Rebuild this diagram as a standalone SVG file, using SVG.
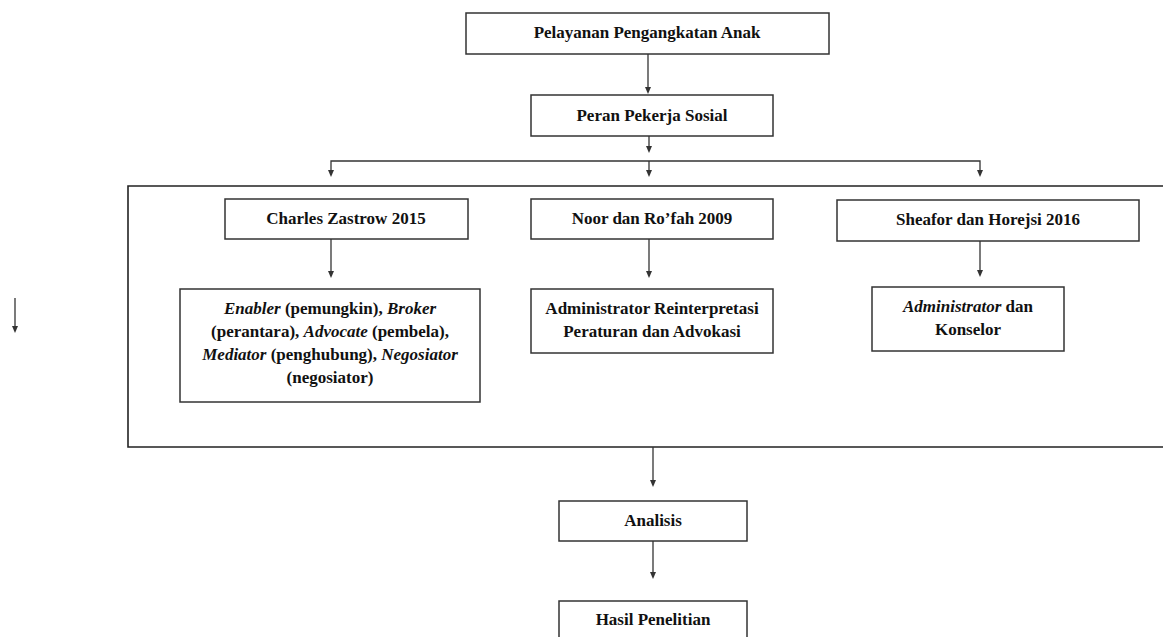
<svg xmlns="http://www.w3.org/2000/svg" width="1163" height="637" viewBox="0 0 1163 637">
<style>
.box{fill:#fff;stroke:#333;stroke-width:1.5}
.frame{fill:none;stroke:#222;stroke-width:1.6}
.ln{fill:none;stroke:#333;stroke-width:1.3}
.ah{fill:#333}
text{font-family:'Liberation Serif',serif;font-size:17px;font-weight:bold;fill:#111;text-anchor:middle}
.i{font-style:italic}
</style>
<g id="group-frame">
<path class="frame" d="M1170,186 H128 V447 H1170"/>
</g>
<g id="connectors">
<path class="ln" d="M648,54 V87"/>
<path class="ah" d="M645,87 L651,87 L648,94 Z"/>
<path class="ln" d="M649,136 V146"/>
<path class="ah" d="M646,146 L652,146 L649,153 Z"/>
<path class="ln" d="M331,170 V161 H980 V170"/>
<path class="ln" d="M649,161 V170"/>
<path class="ah" d="M328,170 L334,170 L331,177 Z"/>
<path class="ah" d="M646,170 L652,170 L649,177 Z"/>
<path class="ah" d="M977,170 L983,170 L980,177 Z"/>
<path class="ln" d="M331,239 V271"/>
<path class="ah" d="M328,271 L334,271 L331,278 Z"/>
<path class="ln" d="M649,239 V271"/>
<path class="ah" d="M646,271 L652,271 L649,278 Z"/>
<path class="ln" d="M980,241 V270"/>
<path class="ah" d="M977,270 L983,270 L980,277 Z"/>
<path class="ln" d="M653,447 V480"/>
<path class="ah" d="M650,480 L656,480 L653,487 Z"/>
<path class="ln" d="M653,541 V572"/>
<path class="ah" d="M650,572 L656,572 L653,579 Z"/>
<path class="ln" d="M15,298 V326"/>
<path class="ah" d="M12,326 L18,326 L15,333 Z"/>
</g>
<g id="node-pelayanan">
<rect class="box" x="466" y="13" width="363" height="41"/>
<text x="647" y="38">Pelayanan Pengangkatan Anak</text>
</g>
<g id="node-peran">
<rect class="box" x="531" y="95" width="242" height="41"/>
<text x="652" y="121">Peran Pekerja Sosial</text>
</g>
<g id="node-charles">
<rect class="box" x="225" y="199" width="243" height="40"/>
<text x="346" y="224">Charles Zastrow 2015</text>
</g>
<g id="node-noor">
<rect class="box" x="531" y="199" width="242" height="40"/>
<text x="652" y="224">Noor dan Ro’fah 2009</text>
</g>
<g id="node-sheafor">
<rect class="box" x="837" y="200" width="302" height="41"/>
<text x="988" y="225">Sheafor dan Horejsi 2016</text>
</g>
<g id="node-enabler">
<rect class="box" x="180" y="289" width="300" height="113"/>
<text x="330" y="314"><tspan class="i">Enabler</tspan> (pemungkin), <tspan class="i">Broker</tspan></text>
<text x="330" y="337">(perantara), <tspan class="i">Advocate</tspan> (pembela),</text>
<text x="330" y="360"><tspan class="i">Mediator</tspan> (penghubung), <tspan class="i">Negosiator</tspan></text>
<text x="330" y="383">(negosiator)</text>
</g>
<g id="node-administrator-reinterpretasi">
<rect class="box" x="531" y="289" width="242" height="64"/>
<text x="652" y="314">Administrator Reinterpretasi</text>
<text x="652" y="337">Peraturan dan Advokasi</text>
</g>
<g id="node-administrator-konselor">
<rect class="box" x="872" y="287" width="192" height="64"/>
<text x="968" y="312"><tspan class="i">Administrator</tspan> dan</text>
<text x="968" y="335">Konselor</text>
</g>
<g id="node-analisis">
<rect class="box" x="559" y="501" width="188" height="40"/>
<text x="653" y="526">Analisis</text>
</g>
<g id="node-hasil">
<rect class="box" x="559" y="601" width="188" height="45"/>
<text x="653" y="625">Hasil Penelitian</text>
</g>
</svg>
